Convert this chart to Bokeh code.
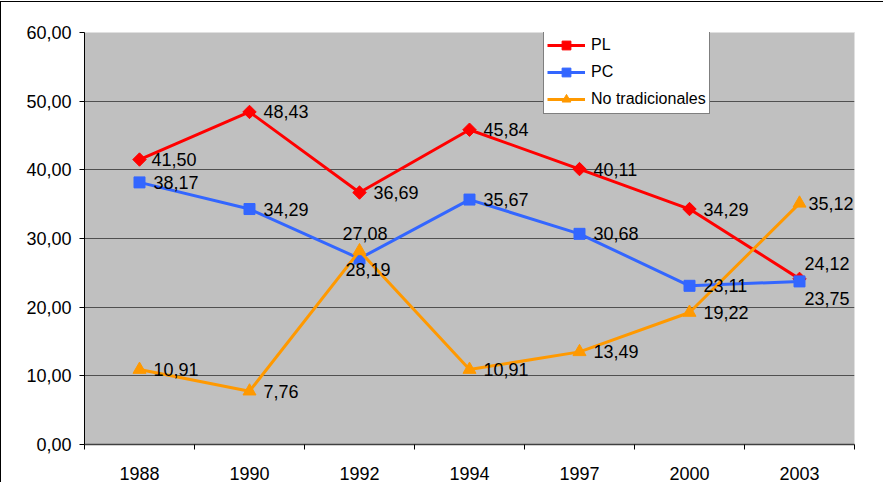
from bokeh.plotting import figure
from bokeh.models import (Range1d, FixedTicker, CustomJSTickFormatter, ColumnDataSource,
                          Label, Legend, LegendItem)
from bokeh.embed import file_html
from bokeh.resources import INLINE

# ---- data ----
years = ["1988", "1990", "1992", "1994", "1997", "2000", "2003"]
pl = [41.50, 48.43, 36.69, 45.84, 40.11, 34.29, 24.12]
pc = [38.17, 34.29, 27.08, 35.67, 30.68, 23.11, 23.75]
nt = [10.91, 7.76, 28.19, 10.91, 13.49, 19.22, 35.12]
series_names = ["PL", "PC", "No tradicionales"]
y_ticks = [0, 10, 20, 30, 40, 50, 60]

# ---- styles ----
FONT = "Liberation Sans"
colors = ["#FF0000", "#3366FF", "#FF9900"]
markers = [("square", 0.785398, 9.5), ("square", 0.0, 11), ("triangle", 0.0, 13)]
# label offsets (screen px, y downward) per (series, point); default (14, 0)
label_offsets = {
    (0, 0): (12, 0),
    (1, 2): (-17, -25),
    (2, 2): (-14, 19),
    (0, 6): (5, -15),
    (1, 6): (5, 17),
    (2, 6): (9, 0),
}

xs = [i + 0.5 for i in range(len(years))]

p = figure(
    frame_width=770, frame_height=412,
    min_border_left=83, min_border_top=30, min_border_right=29, min_border_bottom=38,
    x_range=Range1d(0, len(years)), y_range=Range1d(y_ticks[0], y_ticks[-1]),
    output_backend="svg", toolbar_location=None,
    background_fill_color="#C0C0C0", border_fill_color="white",
)
p.styles = {"border-left": "1px solid black", "border-top": "1px solid black",
            "margin-top": "1px"}
p.outline_line_color = "#E0E0E0"
p.outline_line_width = 1

# axes
p.xaxis.ticker = FixedTicker(ticks=xs, minor_ticks=list(range(len(years) + 1)))
p.xaxis.major_label_overrides = {x: y for x, y in zip(xs, years)}
p.xaxis.major_tick_line_color = None
p.xaxis.major_tick_out = 0
p.xaxis.major_tick_in = 0
p.xaxis.minor_tick_line_color = "black"
p.xaxis.minor_tick_out = 5
p.xaxis.minor_tick_in = 0
p.xaxis.axis_line_color = "#404040"
p.xaxis.axis_line_width = 1.5
p.xaxis.major_label_standoff = 17
p.xaxis.major_label_text_font = FONT
p.xaxis.major_label_text_font_size = "18px"
p.xaxis.major_label_text_line_height = 1.0
p.xaxis.major_label_text_color = "black"

p.yaxis.ticker = FixedTicker(ticks=y_ticks)
p.yaxis.formatter = CustomJSTickFormatter(code="return tick.toFixed(2).replace('.', ',');")
p.yaxis.major_tick_out = 5
p.yaxis.major_tick_in = 0
p.yaxis.minor_tick_line_color = None
p.yaxis.axis_line_color = "black"
p.yaxis.major_tick_line_color = "black"
p.yaxis.major_label_standoff = 8
p.yaxis.major_label_text_font = FONT
p.yaxis.major_label_text_font_size = "18px"
p.yaxis.major_label_text_color = "black"

p.xgrid.grid_line_color = None
p.ygrid.ticker = FixedTicker(ticks=y_ticks[1:-1])
p.ygrid.grid_line_color = "#505050"
p.ygrid.grid_line_width = 1

# series
all_series = [pl, pc, nt]
items = []
for k, (vals, name) in enumerate(zip(all_series, series_names)):
    src = ColumnDataSource(dict(x=xs, y=vals))
    ln = p.line("x", "y", source=src, color=colors[k], line_width=3)
    mk, ang, sz = markers[k]
    sc = p.scatter("x", "y", source=src, marker=mk, angle=ang, size=sz,
                   fill_color=colors[k], line_color=colors[k])
    items.append(LegendItem(label=name, renderers=[ln, sc]))

# data labels
for k, vals in enumerate(all_series):
    for i, v in enumerate(vals):
        dx, dy = label_offsets.get((k, i), (14, 0))
        p.add_layout(Label(x=xs[i], y=v, text=f"{v:.2f}".replace(".", ","),
                           x_offset=dx, y_offset=-dy,
                           text_font=FONT, text_font_size="18px", text_color="black",
                           text_align="left", text_baseline="middle"))

# legend
lg = Legend(items=items, location=(459, 330))
lg.label_text_font = FONT
lg.label_text_font_size = "16px"
lg.label_text_color = "black"
lg.border_line_color = "black"
lg.border_line_width = 1
lg.background_fill_color = "white"
lg.background_fill_alpha = 1.0
lg.glyph_width = 38
lg.glyph_height = 22
lg.label_height = 22
lg.label_standoff = 6
lg.spacing = 5
lg.padding = 3
lg.margin = 0
p.add_layout(lg)

open("out.html", "w").write(file_html(p, INLINE))
